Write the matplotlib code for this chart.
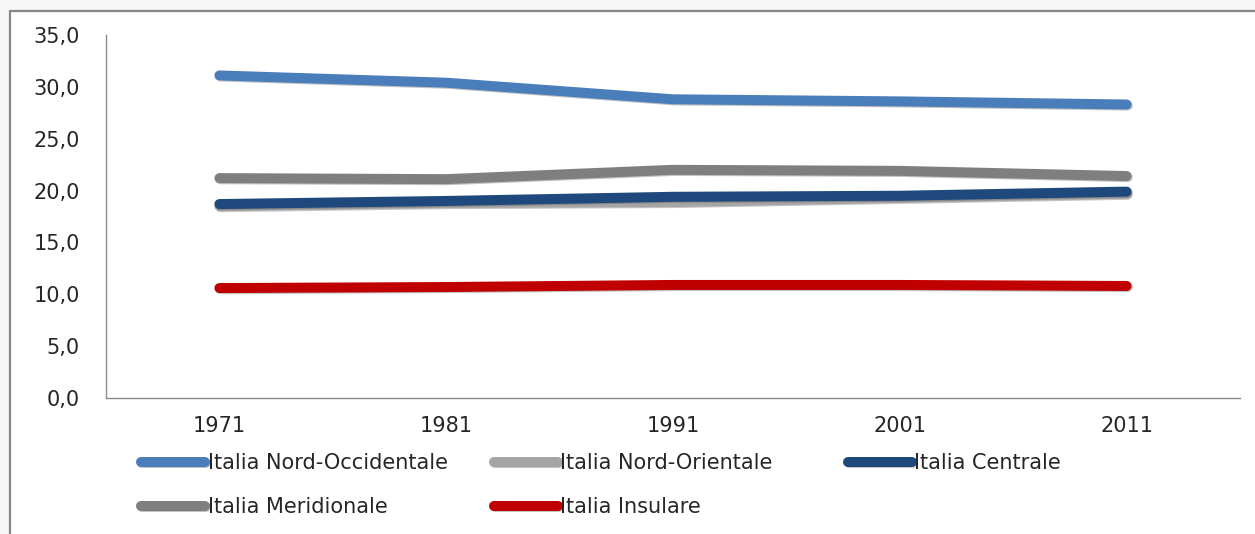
import matplotlib
matplotlib.use("Agg")
import matplotlib.pyplot as plt
from matplotlib.ticker import FuncFormatter, MultipleLocator
from matplotlib.lines import Line2D
from matplotlib.patches import Rectangle
import matplotlib.patheffects as pe

years = ["1971", "1981", "1991", "2001", "2011"]
nord_occ = [31.1, 30.4, 28.8, 28.6, 28.3]
nord_or = [18.5, 18.8, 18.9, 19.3, 19.7]
centrale = [18.7, 19.0, 19.4, 19.5, 19.9]
meridionale = [21.2, 21.1, 22.0, 21.9, 21.4]
insulare = [10.6, 10.7, 10.9, 10.9, 10.8]

labels = ["Italia Nord-Occidentale", "Italia Nord-Orientale", "Italia Centrale",
          "Italia Meridionale", "Italia Insulare"]
colors = ["#4A7EBB", "#A5A5A5", "#1F497D", "#7F7F7F", "#C00000"]
series = [nord_occ, nord_or, centrale, meridionale, insulare]

W, H = 1255, 534
fig = plt.figure(figsize=(W / 100, H / 100), dpi=100)
fig.patch.set_facecolor("#F7F7F7")

# chart area frame (extends past the right/bottom edges)
frame = Rectangle((10 / W, -0.1), 1.2, 1 - 11 / H + 0.1, transform=fig.transFigure,
                  facecolor="white", edgecolor="#878787", linewidth=1.6, zorder=-5)
fig.patches.append(frame)

ax = fig.add_axes([106 / W, 1 - 398 / H, (1240 - 106) / W, (398 - 35) / H])
ax.set_zorder(2)
ax.set_facecolor("none")
x = list(range(len(years)))
lw = 7.2
shadow = [pe.SimpleLineShadow(offset=(0.8, -0.8), shadow_color="#555555", alpha=0.35),
          pe.Normal()]
for vals, c in zip(series, colors):
    ax.plot(x, vals, color=c, linewidth=lw, solid_capstyle="round",
            solid_joinstyle="round", path_effects=shadow, zorder=3)

ax.set_xlim(-0.5, len(years) - 0.5)
ax.set_ylim(0, 35)
ax.yaxis.set_major_locator(MultipleLocator(5))
ax.yaxis.set_major_formatter(FuncFormatter(lambda v, p: f"{v:.1f}".replace(".", ",")))
ax.set_xticks(x)
ax.set_xticklabels(years)
for s in ["top", "right"]:
    ax.spines[s].set_visible(False)
for s in ["left", "bottom"]:
    ax.spines[s].set_color("#8C8C8C")
    ax.spines[s].set_linewidth(1.0)
fs = 15
ax.tick_params(axis="y", length=0, pad=19, labelsize=fs, labelcolor="#262626")
ax.tick_params(axis="x", length=0, pad=13, labelsize=fs, labelcolor="#262626")

# legend: 3 equal-width columns, 2 rows
col_x = [141, 494, 848]
row_y = [463, 507]
slots = [(0, 0), (1, 0), (2, 0), (0, 1), (1, 1)]
for (ci, ri), lab, c in zip(slots, labels, colors):
    h = Line2D([0], [0], color=c, linewidth=lw, solid_capstyle="round",
               path_effects=shadow)
    leg = fig.legend([h], [lab], loc="center left",
                     bbox_to_anchor=(col_x[ci] / W, 1 - row_y[ri] / H),
                     bbox_transform=fig.transFigure, frameon=False,
                     handlelength=64 / (fs * 100 / 72), handletextpad=0.12,
                     borderpad=0, borderaxespad=0, fontsize=fs)
    for t in leg.get_texts():
        t.set_color("#262626")

fig.savefig("out.png", dpi=100)
